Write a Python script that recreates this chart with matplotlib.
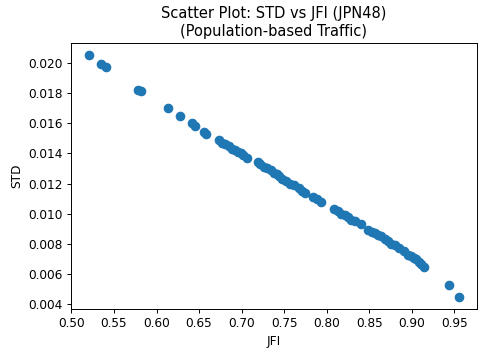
import numpy as np
import matplotlib
matplotlib.use("Agg")
import matplotlib.pyplot as plt

# values
jfi = [0.521, 0.535, 0.540, 0.578, 0.582, 0.613, 0.627, 0.642, 0.645, 0.656,
       0.658, 0.673, 0.677, 0.681, 0.685, 0.689, 0.692, 0.696, 0.699, 0.702,
       0.706, 0.719, 0.722, 0.726, 0.730, 0.734, 0.738, 0.741, 0.744, 0.748,
       0.752, 0.757, 0.762, 0.767, 0.771, 0.775, 0.784, 0.788, 0.793, 0.809,
       0.813, 0.817, 0.821, 0.825, 0.829, 0.833, 0.840, 0.849, 0.853, 0.857,
       0.860, 0.864, 0.868, 0.872, 0.876, 0.880, 0.885, 0.891, 0.896, 0.899,
       0.902, 0.905, 0.908, 0.911, 0.914, 0.944, 0.955]
std = [0.0205, 0.0199, 0.0197, 0.0182, 0.0181, 0.0170, 0.0165, 0.0160, 0.0158, 0.0154,
       0.0153, 0.0149, 0.0147, 0.0146, 0.0145, 0.0143, 0.0142, 0.0141, 0.0140, 0.0139,
       0.0137, 0.0134, 0.0133, 0.0131, 0.0130, 0.0129, 0.0127, 0.0126, 0.0125, 0.0123,
       0.0122, 0.0120, 0.0119, 0.0117, 0.0115, 0.0114, 0.0111, 0.0110, 0.0108, 0.0103,
       0.0102, 0.0100, 0.0099, 0.0098, 0.0096, 0.0095, 0.0093, 0.0089, 0.0088, 0.0087,
       0.0086, 0.0085, 0.0083, 0.0082, 0.0080, 0.0079, 0.0077, 0.0075, 0.0073, 0.0072,
       0.0071, 0.0070, 0.0068, 0.0067, 0.0065, 0.0053, 0.0045]

dpi = 87.5
fig = plt.figure(figsize=(479 / dpi, 353 / dpi), dpi=dpi)
ax = fig.add_axes([0.148, 0.125, 0.848, 0.753])
ax.scatter(jfi, std, s=48, color='#1f77b4')
ax.set_title("Scatter Plot: STD vs JFI (JPN48)\n(Population-based Traffic)")
ax.set_xlabel("JFI")
ax.set_ylabel("STD")
ax.set_xticks(np.arange(0.50, 0.951, 0.05))
ax.set_yticks(np.arange(0.004, 0.0201, 0.002))

fig.savefig("out.png", dpi=dpi)
